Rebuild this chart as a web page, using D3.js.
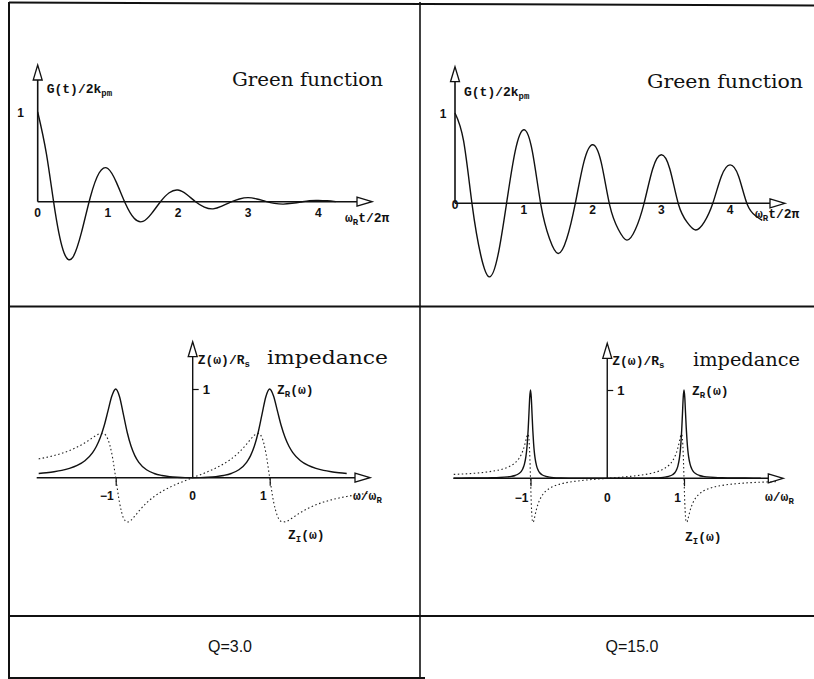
<!DOCTYPE html>
<html>
<head>
<meta charset="utf-8">
<script src="https://cdn.jsdelivr.net/npm/d3@7"></script>
<style>
body { margin: 0; background: #fff; }
svg { display: block; }
.tk { font-family: "Liberation Sans", Arial, sans-serif; font-weight: bold; font-size: 12px; fill: #111; }
.lab { font-family: "Liberation Mono", "Courier New", monospace; font-weight: bold; font-size: 13px; fill: #111; }
.ttl { font-family: "DejaVu Serif", serif; font-size: 18px; fill: #111; }
.q { font-family: "Liberation Sans", Arial, sans-serif; font-size: 16px; fill: #111; }
</style>
</head>
<body>
<div id="chart"></div>
<script>
/******************** DATA ********************/
var tTicks = [0, 1, 2, 3, 4];
var qLabels = ["Q=3.0", "Q=15.0"];

// Green function, Q = 3
var tQ3 = [0, 0.125, 0.25, 0.375, 0.5, 0.625, 0.75, 0.875, 1, 1.125, 1.25, 1.375, 1.5, 1.625, 1.75, 1.875,
           2, 2.125, 2.25, 2.375, 2.5, 2.625, 2.75, 2.875, 3, 3.125, 3.25, 3.375, 3.5, 3.625, 3.75, 3.875,
           4, 4.125, 4.25];
var gQ3 = [1.0, 0.53, -0.12, -0.57, -0.62, -0.34, 0.05, 0.32, 0.37, 0.21, -0.02, -0.185, -0.22, -0.13, 0.0, 0.10,
           0.13, 0.08, 0.0, -0.06, -0.08, -0.05, -0.005, 0.03, 0.045, 0.03, 0.004, -0.018, -0.027, -0.018, -0.003, 0.012,
           0.015, 0.01, 0.001];

// Green function, Q = 15
var tQ15 = [0, 0.125, 0.25, 0.375, 0.5, 0.625, 0.75, 0.875, 1, 1.125, 1.25, 1.375, 1.5, 1.625, 1.75, 1.875,
            2, 2.125, 2.25, 2.375, 2.5, 2.625, 2.75, 2.875, 3, 3.125, 3.25, 3.375, 3.5, 3.625, 3.75, 3.875,
            4, 4.125, 4.25, 4.375, 4.47];
var gQ15 = [1.0, 0.69, -0.02, -0.575, -0.815, -0.575, 0.0, 0.575, 0.814, 0.575, -0.02, -0.393, -0.556, -0.393, 0.0, 0.458,
            0.648, 0.458, -0.02, -0.288, -0.408, -0.288, 0.0, 0.38, 0.537, 0.38, -0.01, -0.209, -0.296, -0.209, 0.0, 0.30,
            0.426, 0.30, -0.01, -0.14, -0.19];

// impedance, Q = 3
var wQ3 = [-2.0, -1.9, -1.8, -1.7, -1.6, -1.5, -1.4, -1.3, -1.25, -1.2, -1.15, -1.1, -1.05, -1.0, -0.95, -0.9,
           -0.85, -0.8, -0.75, -0.7, -0.6, -0.5, -0.4, -0.3, -0.2, -0.1, 0,
           0.1, 0.2, 0.3, 0.4, 0.5, 0.6, 0.7, 0.75, 0.8, 0.85, 0.9, 0.95, 1.0, 1.05, 1.1, 1.15, 1.2, 1.25, 1.3,
           1.4, 1.5, 1.6, 1.7, 1.8, 1.9, 2.0, 2.1, 2.2, 2.3];
var zrQ3 = [0.047, 0.056, 0.067, 0.082, 0.105, 0.138, 0.191, 0.283, 0.354, 0.452, 0.585, 0.753, 0.921, 1.0, 0.913, 0.714,
            0.510, 0.354, 0.246, 0.173, 0.089, 0.047, 0.025, 0.012, 0.005, 0.001, 0,
            0.001, 0.005, 0.012, 0.025, 0.047, 0.089, 0.173, 0.246, 0.354, 0.510, 0.714, 0.913, 1.0, 0.921, 0.753, 0.585, 0.452, 0.354, 0.283,
            0.191, 0.138, 0.105, 0.082, 0.067, 0.056, 0.047, null, null, null];
var ziQ3 = [0.212, 0.229, 0.250, 0.275, 0.306, 0.345, 0.393, 0.450, 0.478, 0.498, 0.493, 0.431, 0.270, 0, -0.281, -0.452,
            -0.500, -0.478, -0.431, -0.378, -0.285, -0.212, -0.155, -0.109, -0.069, -0.034, 0,
            0.034, 0.069, 0.109, 0.155, 0.212, 0.285, 0.378, 0.431, 0.478, 0.500, 0.452, 0.281, 0, -0.270, -0.431, -0.493, -0.498, -0.478, -0.450,
            -0.393, -0.345, -0.306, -0.275, -0.250, -0.229, -0.212, -0.197, -0.184, -0.173];

// impedance, Q = 15
var wQ15 = [-2.0, -1.8, -1.6, -1.5, -1.4, -1.3, -1.25, -1.2, -1.15, -1.12, -1.1, -1.08, -1.06, -1.05, -1.04, -1.03, -1.02, -1.01,
            -1.0, -0.99, -0.98, -0.97, -0.96, -0.95, -0.94, -0.92, -0.9, -0.88, -0.85, -0.8, -0.75, -0.7, -0.6, -0.5, -0.4, -0.2, 0,
            0.2, 0.4, 0.5, 0.6, 0.7, 0.75, 0.8, 0.85, 0.88, 0.9, 0.92, 0.94, 0.95, 0.96, 0.97, 0.98, 0.99,
            1.0, 1.01, 1.02, 1.03, 1.04, 1.05, 1.06, 1.08, 1.1, 1.12, 1.15, 1.2, 1.25, 1.3, 1.4, 1.5, 1.6, 1.8, 2.0, 2.2];
var zrQ15 = [0.002, 0.003, 0.005, 0.006, 0.009, 0.016, 0.022, 0.032, 0.054, 0.079, 0.109, 0.158, 0.246, 0.318, 0.419, 0.560, 0.739, 0.918,
             1.0, 0.917, 0.731, 0.545, 0.400, 0.297, 0.225, 0.138, 0.091, 0.063, 0.040, 0.022, 0.013, 0.008, 0.004, 0.002, 0.001, 0, 0,
             0, 0.001, 0.002, 0.004, 0.008, 0.013, 0.022, 0.040, 0.063, 0.091, 0.138, 0.225, 0.297, 0.400, 0.545, 0.731, 0.917,
             1.0, 0.918, 0.739, 0.560, 0.419, 0.318, 0.246, 0.158, 0.109, 0.079, 0.054, 0.032, 0.022, 0.016, 0.009, 0.006, 0.005, 0.003, 0.002, null];
var ziQ15 = [0.044, 0.053, 0.068, 0.080, 0.096, 0.124, 0.145, 0.176, 0.225, 0.270, 0.311, 0.364, 0.431, 0.466, 0.493, 0.496, 0.439, 0.274,
             0, -0.276, -0.443, -0.498, -0.490, -0.457, -0.417, -0.344, -0.287, -0.244, -0.196, -0.145, -0.113, -0.091, -0.062, -0.044, -0.032, -0.014, 0,
             0.014, 0.032, 0.044, 0.062, 0.091, 0.113, 0.145, 0.196, 0.244, 0.287, 0.344, 0.417, 0.457, 0.490, 0.498, 0.443, 0.276,
             0, -0.274, -0.439, -0.496, -0.493, -0.466, -0.431, -0.364, -0.311, -0.270, -0.225, -0.176, -0.145, -0.124, -0.096, -0.080, -0.068, -0.053, -0.044, -0.038];

/******************** DRAWING ********************/
var width = 814, height = 679;

var svg = d3.select("#chart").append("svg")
    .attr("width", width)
    .attr("height", height);

var ink = "#111";

// open triangle arrow head
function arrowHead(g, x, y, dir) {
    var L = 15, w = 4.5, pts;
    if (dir == "right") pts = [[x, y], [x - L, y - w], [x - L, y + w]];
    else pts = [[x, y], [x - w, y + L], [x + w, y + L]];
    g.append("polygon")
        .attr("points", pts.map(function(p) { return p.join(","); }).join(" "))
        .attr("fill", "#fff")
        .attr("stroke", ink)
        .attr("stroke-width", 1.3);
}

function hline(g, x1, x2, y, w) {
    g.append("line").attr("x1", x1).attr("x2", x2).attr("y1", y).attr("y2", y)
        .attr("stroke", ink).attr("stroke-width", w);
}
function vline(g, x, y1, y2, w) {
    g.append("line").attr("x1", x).attr("x2", x).attr("y1", y1).attr("y2", y2)
        .attr("stroke", ink).attr("stroke-width", w);
}

// text with a subscript part: parts = [[text, isSub], ...]
function subText(g, x, y, parts, cls) {
    var t = g.append("text").attr("class", cls).attr("x", x).attr("y", y);
    var down = false;
    parts.forEach(function(p) {
        var s = t.append("tspan").text(p[0]);
        if (p[1] && !down) { s.attr("dy", 3).style("font-size", "9px"); down = true; }
        else if (p[1]) { s.style("font-size", "9px"); }
        else if (down) { s.attr("dy", -3); down = false; }
    });
    return t;
}

/* Green function panel */
function greenPanel(p) {
    var g = svg.append("g");
    var x = d3.scaleLinear().domain([0, 4]).range([p.x0, p.x4]),
        y = d3.scaleLinear().domain([0, 1]).range([p.y0, p.y1]);

    // axes
    hline(g, x(0), p.xTip - 14, y(0), 1.6);
    vline(g, x(0), y(0), p.yTip + 14, 1.6);
    arrowHead(g, p.xTip, y(0), "right");
    arrowHead(g, x(0), p.yTip, "up");

    var line = d3.line()
        .x(function(d) { return x(d[0]); })
        .y(function(d) { return y(d[1]); })
        .curve(d3.curveNatural);
    g.append("path")
        .datum(d3.zip(p.t, p.g))
        .attr("d", line)
        .attr("fill", "none")
        .attr("stroke", ink)
        .attr("stroke-width", 1.4);

    g.selectAll(".xt").data(tTicks).enter().append("text")
        .attr("class", "tk")
        .attr("text-anchor", "middle")
        .attr("x", function(d) { return x(d); })
        .attr("y", function(d) { return d == 0 ? p.zeroY : p.tickY; })
        .text(function(d) { return d; });
    g.append("text").attr("class", "tk").attr("text-anchor", "middle")
        .attr("x", p.oneX).attr("y", y(1) + 5).text("1");

    subText(g, x(0) + 9, p.yLabY, [["G(t)/2k", false], ["pm", true]], "lab");
    subText(g, p.xLabX, p.xLabY, [["ω", false], ["R", true], ["t/2π", false]], "lab");
    g.append("text").attr("class", "ttl")
        .attr("x", p.ttlX).attr("y", p.ttlY)
        .attr("textLength", p.ttlW).attr("lengthAdjust", "spacingAndGlyphs")
        .text("Green function");
}

/* impedance panel */
function impedancePanel(p) {
    var g = svg.append("g");
    var x = d3.scaleLinear().domain([-1, 1]).range([p.xm1, p.xp1]),
        y = d3.scaleLinear().domain([0, 1]).range([p.y0, p.y1]);

    hline(g, p.xStart, p.xTip - 14, y(0), 1.6);
    vline(g, x(0), y(0), p.yTip + 14, 1.4);
    arrowHead(g, p.xTip, y(0), "right");
    arrowHead(g, x(0), p.yTip, "up");

    // tick marks at +-1 under the axis and at 1 on the vertical axis
    g.append("g")
        .attr("transform", "translate(0," + y(0) + ")")
        .call(d3.axisBottom(x).tickValues([-1, 1]).tickSize(8).tickFormat(""))
        .call(function(a) {
            a.select(".domain").remove();
            a.selectAll("line").attr("stroke", ink).attr("stroke-width", 1.2);
        });
    g.append("g")
        .attr("transform", "translate(" + x(0) + ",0)")
        .call(d3.axisRight(y).tickValues([1]).tickSize(6).tickFormat(""))
        .call(function(a) {
            a.select(".domain").remove();
            a.selectAll("line").attr("stroke", ink).attr("stroke-width", 1.2);
        });

    var line = d3.line()
        .defined(function(d) { return d[1] != null; })
        .x(function(d) { return x(d[0]); })
        .y(function(d) { return y(d[1]); })
        .curve(d3.curveMonotoneX);

    g.append("path")
        .datum(d3.zip(p.w, p.zi))
        .attr("d", line)
        .attr("fill", "none")
        .attr("stroke", "#222")
        .attr("stroke-width", 1.1)
        .attr("stroke-dasharray", "1.5,2.5");
    g.append("path")
        .datum(d3.zip(p.w, p.zr))
        .attr("d", line)
        .attr("fill", "none")
        .attr("stroke", ink)
        .attr("stroke-width", 1.4);

    // labels: -1 and 1 sit just left of their tick marks
    var xl = [[-1, "−1", "end", -2], [0, "0", "middle", 0], [1, "1", "end", -3]];
    g.selectAll(".xt").data(xl).enter().append("text")
        .attr("class", "tk")
        .attr("text-anchor", function(d) { return d[2]; })
        .attr("x", function(d) { return x(d[0]) + d[3]; })
        .attr("y", p.tickY)
        .text(function(d) { return d[1]; });
    g.append("text").attr("class", "tk")
        .attr("x", x(0) + 10).attr("y", y(1) + 5).style("font-size", "13px").text("1");

    subText(g, x(0) + 5, p.yLabY, [["Z(ω)/R", false], ["s", true]], "lab");
    subText(g, p.xLabX, p.xLabY, [["ω/ω", false], ["R", true]], "lab");
    subText(g, p.zrX, p.zrY, [["Z", false], ["R", true], ["(ω)", false]], "lab");
    subText(g, p.ziX, p.ziY, [["Z", false], ["I", true], ["(ω)", false]], "lab");
    g.append("text").attr("class", "ttl")
        .attr("x", p.ttlX).attr("y", p.ttlY)
        .attr("textLength", p.ttlW).attr("lengthAdjust", "spacingAndGlyphs")
        .text("impedance");
}

// frame
var frame = svg.append("g");
frame.append("line").attr("x1", 9).attr("y1", 2.5).attr("x2", 814).attr("y2", 5.5)
    .attr("stroke", ink).attr("stroke-width", 2);
vline(frame, 9, 2, 679, 2);
vline(frame, 420, 2, 679, 1.6);
hline(frame, 9, 814, 306.5, 2);
hline(frame, 9, 814, 616, 2);
hline(frame, 9, 425, 678, 2);

greenPanel({ t: tQ3, g: gQ3, x0: 37.7, x4: 318.3, y0: 201.7, y1: 112, xTip: 372, yTip: 65,
             tickY: 217, zeroY: 217, oneX: 20.7, yLabY: 93, xLabX: 345, xLabY: 222,
             ttlX: 232, ttlY: 86, ttlW: 151 });
greenPanel({ t: tQ15, g: gQ15, x0: 455, x4: 730, y0: 203.3, y1: 113, xTip: 785, yTip: 66.7,
             tickY: 214, zeroY: 209, oneX: 443, yLabY: 96, xLabX: 755, xLabY: 218,
             ttlX: 647, ttlY: 88, ttlW: 156 });

impedancePanel({ w: wQ3, zr: zrQ3, zi: ziQ3, xm1: 115.7, xp1: 269.7, y0: 477.7, y1: 389,
                 xStart: 36.7, xTip: 370, yTip: 341.7, tickY: 500,
                 yLabY: 364, xLabX: 353, xLabY: 500, zrX: 277, zrY: 394, ziX: 288, ziY: 539,
                 ttlX: 267, ttlY: 364, ttlW: 121 });
impedancePanel({ w: wQ15, zr: zrQ15, zi: ziQ15, xm1: 530.5, xp1: 684, y0: 478.3, y1: 390,
                 xStart: 453.3, xTip: 783.3, yTip: 343.3, tickY: 502,
                 yLabY: 365, xLabX: 765, xLabY: 501, zrX: 692, zrY: 395, ziX: 685, ziY: 541,
                 ttlX: 693, ttlY: 366, ttlW: 107 });

// bottom row captions
svg.selectAll(".q").data(qLabels).enter().append("text")
    .attr("class", "q")
    .attr("text-anchor", "middle")
    .attr("x", function(d, i) { return i == 0 ? 230 : 632; })
    .attr("y", 652)
    .text(function(d) { return d; });
</script>
</body>
</html>
